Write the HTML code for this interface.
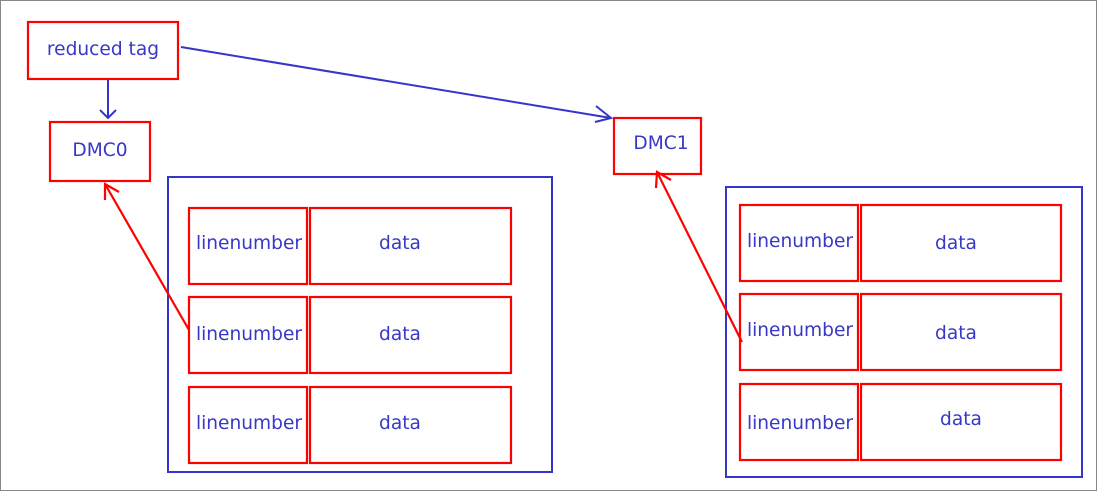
<!DOCTYPE html>
<html><head><style>html,body{margin:0;padding:0;background:#fff}</style></head><body>
<svg width="1097" height="491" xmlns="http://www.w3.org/2000/svg" font-family="'DejaVu Sans', 'Liberation Sans', sans-serif" font-size="18.6" fill="#3838c8">
<rect x="0.5" y="0.5" width="1096" height="490" fill="#fff" stroke="#888" stroke-width="1"/>
<g fill="none" stroke="#ff0000" stroke-width="2.2">
<rect x="28" y="22" width="150" height="57"/>
<rect x="50" y="122" width="100" height="59"/>
<rect x="614" y="118" width="87" height="56"/>
</g>
<g fill="none" stroke="#3535cc" stroke-width="2">
<rect x="168" y="177" width="384" height="295"/>
<rect x="726" y="187" width="356" height="290"/>
<line x1="181" y1="47" x2="611" y2="118"/>
<polyline points="596,106 611,118 595,122"/>
<line x1="108" y1="80" x2="108" y2="118"/>
<polyline points="100,110 108,118 116,110"/>
</g>
<g fill="none" stroke="#ff0000" stroke-width="2.2">
<rect x="189" y="208" width="118" height="76"/><rect x="310" y="208" width="201" height="76"/>
<rect x="189" y="297" width="118" height="76"/><rect x="310" y="297" width="201" height="76"/>
<rect x="189" y="387" width="118" height="76"/><rect x="310" y="387" width="201" height="76"/>
<rect x="740" y="205" width="118" height="76"/><rect x="861" y="205" width="200" height="76"/>
<rect x="740" y="294" width="118" height="76"/><rect x="861" y="294" width="200" height="76"/>
<rect x="740" y="384" width="118" height="76"/><rect x="861" y="384" width="200" height="76"/>
<line x1="189" y1="330" x2="105" y2="184"/>
<polyline points="105,200 105,184 119,192"/>
<line x1="742" y1="342" x2="657" y2="172"/>
<polyline points="656,188 657,172 671,180"/>
</g>
<g text-anchor="middle" stroke="none">
<text x="103" y="55">reduced tag</text>
<text x="100" y="156">DMC0</text>
<text x="661" y="149">DMC1</text>
<text x="249" y="249">linenumber</text><text x="400" y="249">data</text>
<text x="249" y="340">linenumber</text><text x="400" y="340">data</text>
<text x="249" y="429">linenumber</text><text x="400" y="429">data</text>
<text x="800" y="247">linenumber</text><text x="956" y="249">data</text>
<text x="800" y="336">linenumber</text><text x="956" y="339">data</text>
<text x="800" y="429">linenumber</text><text x="961" y="425">data</text>
</g>
</svg>
</body></html>
